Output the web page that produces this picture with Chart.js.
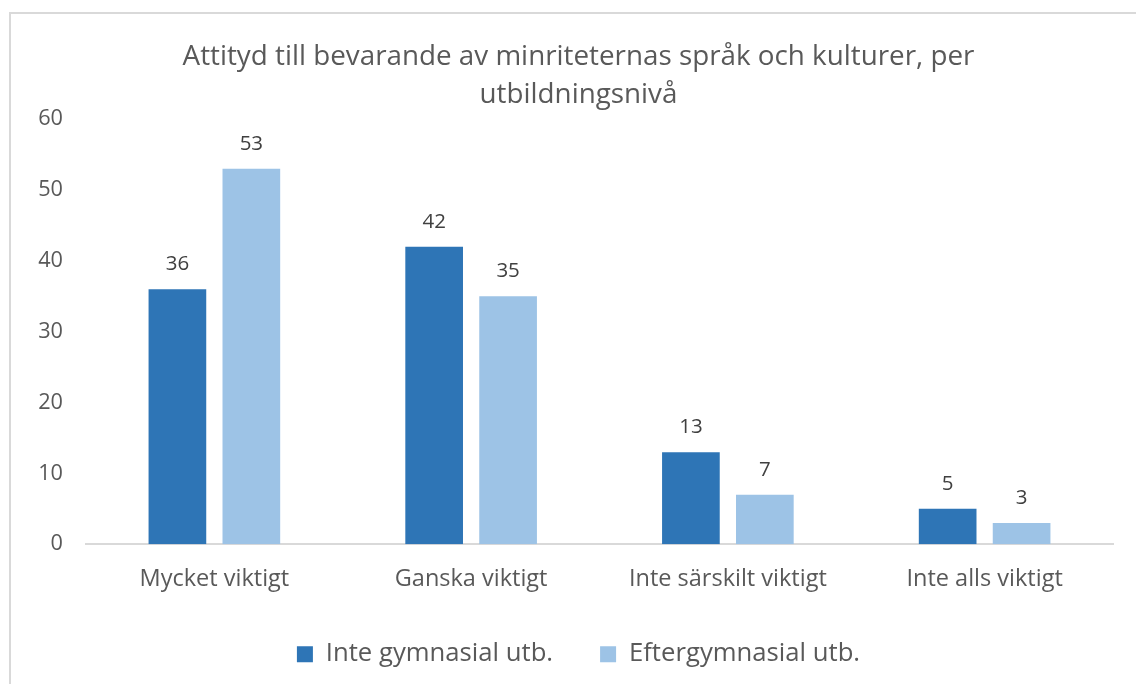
<!DOCTYPE html>
<html>
<head>
<meta charset="utf-8">
<script src="https://cdn.jsdelivr.net/npm/chart.js@4.4.0/dist/chart.umd.min.js"></script>
<style>
  html, body { margin: 0; padding: 0; background: #fff; }
  #wrap { position: relative; width: 1136px; height: 684px; overflow: hidden; }
  #frame { position: absolute; left: 9px; top: 12px; width: 1200px; height: 800px;
    border-left: 2px solid #d9d9d9; border-top: 2px solid #d9d9d9; }
  canvas { position: absolute; left: 0; top: 0; }
</style>
</head>
<body>
<div id="wrap">
  <div id="frame"></div>
  <canvas id="chart" width="1136" height="720"></canvas>
</div>
<script>
const categories = ["Mycket viktigt", "Ganska viktigt", "Inte särskilt viktigt", "Inte alls viktigt"]
const seriesNames = ["Inte gymnasial utb.", "Eftergymnasial utb."]
const inteGymnasial = [36, 42, 13, 5]
const eftergymnasial = [53, 35, 7, 3]
const yTicks = [0, 10, 20, 30, 40, 50, 60]

const font = "'Open Sans', 'Noto Sans', sans-serif"
const textColor = "#595959"

// value labels over each bar
const valueLabels = {
  id: "valueLabels",
  afterDatasetsDraw(chart) {
    const ctx = chart.ctx
    ctx.save()
    ctx.font = "20.5px " + font
    ctx.fillStyle = "#404040"
    ctx.textAlign = "center"
    ctx.textBaseline = "middle"
    chart.data.datasets.forEach((ds, i) => {
      chart.getDatasetMeta(i).data.forEach((bar, j) => {
        ctx.fillText(ds.data[j], bar.x, bar.y - 25)
      })
    })
    ctx.restore()
  },
}

new Chart(document.getElementById("chart"), {
  type: "bar",
  data: {
    labels: categories,
    datasets: [
      { label: seriesNames[0], data: inteGymnasial, backgroundColor: "#2e75b6" },
      { label: seriesNames[1], data: eftergymnasial, backgroundColor: "#9dc3e6" },
    ],
  },
  options: {
    responsive: false,
    animation: false,
    devicePixelRatio: 1,
    categoryPercentage: 0.576,
    barPercentage: 0.78,
    layout: { padding: { left: 21, right: 0, top: 0, bottom: 43 } },
    plugins: {
      tooltip: { enabled: false },
      title: {
        display: true,
        text: ["Attityd till bevarande av minriteternas språk och kulturer, per", "utbildningsnivå"],
        color: textColor,
        font: { family: font, size: 27.8, weight: "normal", lineHeight: 1.37 },
        padding: { top: 38, bottom: 5 },
      },
      legend: {
        position: "bottom",
        labels: {
          color: textColor,
          font: { family: font, size: 25.7 },
          boxWidth: 16,
          boxHeight: 16,
          padding: 47,
        },
      },
    },
    scales: {
      x: {
        afterFit: (scale) => { scale.height = 50 },
        grid: { display: false, drawTicks: false },
        border: { display: true, color: "#d9d9d9", width: 2 },
        ticks: { color: textColor, font: { family: font, size: 23.5 }, padding: 21 },
      },
      y: {
        min: 0,
        max: 60,
        afterBuildTicks: (scale) => { scale.ticks = yTicks.map((v) => ({ value: v })) },
        afterFit: (scale) => { scale.width = 65 },
        grid: { display: false, drawTicks: false },
        border: { display: false },
        ticks: { color: textColor, font: { family: font, size: 21.7 }, padding: 23 },
      },
      // empty right axis, only keeps a margin to the right of the plot
      yRight: {
        position: "right",
        min: 0,
        max: 60,
        afterFit: (scale) => { scale.width = 23 },
        grid: { display: false, drawTicks: false },
        border: { display: false },
        ticks: { display: false },
      },
    },
  },
  plugins: [valueLabels],
})
</script>
</body>
</html>
